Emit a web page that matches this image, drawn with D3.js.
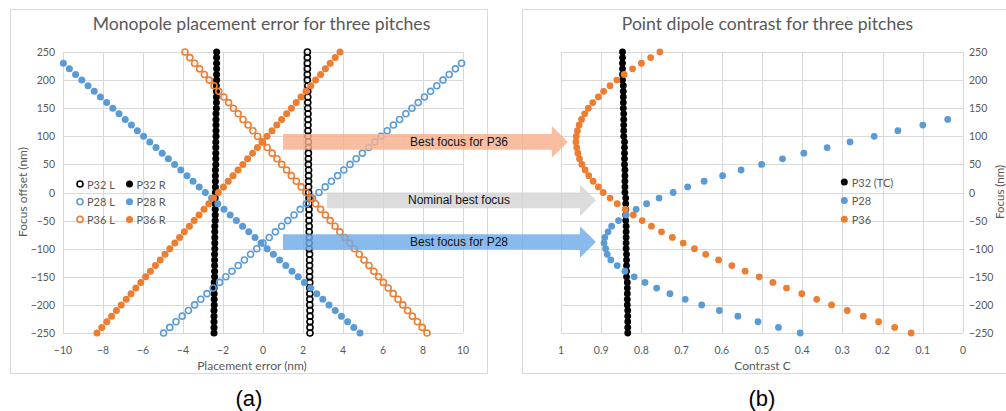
<!DOCTYPE html>
<html>
<head>
<meta charset="utf-8">
<script src="https://cdnjs.cloudflare.com/ajax/libs/d3/7.8.5/d3.min.js"></script>
<style>
  body { margin: 0; background: #fff; }
  svg { display: block; }
</style>
</head>
<body>
<script>
// focus offsets (nm), -250 .. 250 in 10 nm steps
const focus = [-250, -240, -230, -220, -210, -200, -190, -180, -170, -160, -150, -140, -130, -120, -110,
  -100, -90, -80, -70, -60, -50, -40, -30, -20, -10, 0, 10, 20, 30, 40, 50, 60, 70, 80, 90, 100,
  110, 120, 130, 140, 150, 160, 170, 180, 190, 200, 210, 220, 230, 240, 250];

// (a) placement error (nm) per focus value
const p32L = [2.35, 2.35, 2.35, 2.35, 2.35, 2.34, 2.34, 2.34, 2.34, 2.34, 2.33, 2.33, 2.33, 2.33, 2.33,
  2.31, 2.31, 2.31, 2.31, 2.31, 2.30, 2.30, 2.30, 2.30, 2.30, 2.28, 2.28, 2.28, 2.28, 2.28,
  2.27, 2.27, 2.27, 2.27, 2.27, 2.25, 2.25, 2.25, 2.25, 2.25, 2.24, 2.24, 2.24, 2.24, 2.24,
  2.22, 2.22, 2.22, 2.22, 2.22, 2.22];
const p32R = [-2.45, -2.45, -2.45, -2.45, -2.45, -2.44, -2.44, -2.44, -2.44, -2.44, -2.42, -2.42, -2.42, -2.42, -2.42,
  -2.41, -2.41, -2.41, -2.41, -2.41, -2.39, -2.39, -2.39, -2.39, -2.39, -2.38, -2.38, -2.38, -2.38, -2.38,
  -2.36, -2.36, -2.36, -2.36, -2.36, -2.35, -2.35, -2.35, -2.35, -2.35, -2.33, -2.33, -2.33, -2.33, -2.33,
  -2.32, -2.32, -2.32, -2.32, -2.32, -2.32];
// P28 runs from -250 up to 230 only
const p28L = [-4.97, -4.66, -4.35, -4.04, -3.73, -3.42, -3.11, -2.80, -2.49, -2.17, -1.86, -1.55, -1.24, -0.93, -0.62,
  -0.31, 0.00, 0.31, 0.62, 0.93, 1.24, 1.55, 1.86, 2.17, 2.48, 2.80, 3.11, 3.42, 3.73, 4.04,
  4.35, 4.66, 4.97, 5.28, 5.59, 5.90, 6.21, 6.52, 6.83, 7.14, 7.45, 7.76, 8.07, 8.38, 8.69,
  9.00, 9.31, 9.62, 9.93];
const p28R = [4.85, 4.54, 4.23, 3.92, 3.61, 3.30, 2.99, 2.69, 2.38, 2.07, 1.76, 1.45, 1.14, 0.83, 0.52,
  0.21, -0.10, -0.40, -0.71, -1.02, -1.33, -1.64, -1.95, -2.26, -2.57, -2.88, -3.19, -3.50, -3.80, -4.11,
  -4.42, -4.73, -5.04, -5.35, -5.66, -5.97, -6.28, -6.58, -6.89, -7.20, -7.51, -7.82, -8.13, -8.44, -8.75,
  -9.06, -9.37, -9.68, -9.98];
const p36L = [8.20, 7.96, 7.72, 7.47, 7.23, 6.99, 6.75, 6.51, 6.26, 6.02, 5.78, 5.54, 5.30, 5.05, 4.81,
  4.57, 4.33, 4.09, 3.84, 3.60, 3.36, 3.12, 2.88, 2.63, 2.39, 2.15, 1.91, 1.67, 1.42, 1.18,
  0.94, 0.70, 0.46, 0.21, -0.03, -0.27, -0.51, -0.75, -1.00, -1.24, -1.48, -1.72, -1.96, -2.21, -2.45,
  -2.69, -2.93, -3.17, -3.42, -3.66, -3.90];
const p36R = [-8.30, -8.06, -7.81, -7.57, -7.33, -7.09, -6.84, -6.60, -6.36, -6.11, -5.87, -5.63, -5.38, -5.14, -4.90,
  -4.66, -4.41, -4.17, -3.93, -3.68, -3.44, -3.20, -2.95, -2.71, -2.47, -2.23, -1.98, -1.74, -1.50, -1.25,
  -1.01, -0.77, -0.52, -0.28, -0.04, 0.20, 0.45, 0.69, 0.93, 1.18, 1.42, 1.66, 1.90, 2.15, 2.39,
  2.63, 2.88, 3.12, 3.36, 3.61, 3.85];

// (b) contrast C per focus value
const cP32 = [0.834, 0.834, 0.834, 0.834, 0.834, 0.835, 0.835, 0.835, 0.835, 0.835, 0.837, 0.837, 0.837, 0.837, 0.837,
  0.838, 0.838, 0.838, 0.838, 0.838, 0.839, 0.839, 0.839, 0.839, 0.839, 0.841, 0.841, 0.841, 0.841, 0.841,
  0.842, 0.842, 0.842, 0.842, 0.842, 0.844, 0.844, 0.844, 0.844, 0.844, 0.845, 0.845, 0.845, 0.845, 0.845,
  0.847, 0.847, 0.847, 0.847, 0.847, 0.847];
// P28 runs from -250 up to 130 only
const cP28 = [0.405, 0.459, 0.510, 0.560, 0.606, 0.650, 0.691, 0.729, 0.762, 0.791, 0.818, 0.841, 0.860, 0.876, 0.885,
  0.889, 0.893, 0.891, 0.883, 0.874, 0.857, 0.838, 0.813, 0.787, 0.756, 0.721, 0.685, 0.644, 0.598, 0.552,
  0.501, 0.449, 0.396, 0.338, 0.281, 0.221, 0.162, 0.100, 0.038];
const cP36 = [0.129, 0.170, 0.210, 0.248, 0.288, 0.327, 0.364, 0.401, 0.439, 0.473, 0.507, 0.542, 0.575, 0.608, 0.640,
  0.668, 0.696, 0.723, 0.750, 0.775, 0.798, 0.820, 0.840, 0.860, 0.878, 0.895, 0.907, 0.920, 0.931, 0.940,
  0.948, 0.954, 0.958, 0.961, 0.963, 0.962, 0.959, 0.955, 0.949, 0.941, 0.932, 0.921, 0.907, 0.894, 0.878,
  0.861, 0.843, 0.822, 0.800, 0.777, 0.754];

const xTicksA = [-10, -8, -6, -4, -2, 0, 2, 4, 6, 8, 10];
const xTicksB = [1, 0.9, 0.8, 0.7, 0.6, 0.5, 0.4, 0.3, 0.2, 0.1, 0];
const yTicks = [250, 200, 150, 100, 50, 0, -50, -100, -150, -200, -250];

// arrows: from a placement error on (a) to a contrast on (b), at a focus level
const arrowLabels = ["Best focus for P36", "Nominal best focus", "Best focus for P28"];
const arrowFocus = [90, -14, -88];
const arrowFrom = [1.0, 3.2, 1.0];
const arrowTo = [0.983, 0.913, 0.913];

const ORANGE = "#ed7d31", BLUE = "#5b9bd5", GRID = "#d9d9d9", TXT = "#595959";
const UI = "Lato, 'Open Sans', sans-serif";

const width = 1006, height = 411;
const svg = d3.select("body").append("svg")
  .attr("width", width)
  .attr("height", height);

const y = d3.scaleLinear().domain([-250, 250]).range([333, 52]);
const xA = d3.scaleLinear().domain([-10, 10]).range([63, 463]);
const xB = d3.scaleLinear().domain([1, 0]).range([561, 963]);

const minus = v => String(v).replace("-", "\u2212");

// panel frames
svg.append("rect").attr("x", 10.5).attr("y", 9.5).attr("width", 477).attr("height", 364)
  .attr("fill", "none").attr("stroke", GRID);
svg.append("rect").attr("x", 522.5).attr("y", 9.5).attr("width", 520).attr("height", 364)
  .attr("fill", "none").attr("stroke", GRID);

function grid(g, x, xt) {
  g.selectAll("line.v").data(xt).enter().append("line")
    .attr("x1", d => Math.round(x(d)) + 0.5).attr("x2", d => Math.round(x(d)) + 0.5)
    .attr("y1", y(250)).attr("y2", y(-250))
    .attr("stroke", GRID);
  g.selectAll("line.h").data(yTicks).enter().append("line")
    .attr("y1", d => Math.round(y(d)) + 0.5).attr("y2", d => Math.round(y(d)) + 0.5)
    .attr("x1", x.range()[0]).attr("x2", x.range()[1])
    .attr("stroke", GRID);
}

const gA = svg.append("g");
const gB = svg.append("g");
grid(gA, xA, xTicksA);
grid(gB, xB, xTicksB);

// titles
svg.append("text").attr("x", 261.5).attr("y", 30).attr("text-anchor", "middle")
  .attr("font-family", UI).attr("font-size", 17.6).attr("fill", TXT)
  .text("Monopole placement error for three pitches");
svg.append("text").attr("x", 767.5).attr("y", 30).attr("text-anchor", "middle")
  .attr("font-family", UI).attr("font-size", 17.6).attr("fill", TXT)
  .text("Point dipole contrast for three pitches");

// tick labels
const tick = (g) => g.attr("font-family", UI).attr("font-size", 10.5).attr("fill", TXT)
  .attr("dominant-baseline", "central");
tick(gA.append("g")).selectAll("text").data(yTicks).enter().append("text")
  .attr("x", 55).attr("y", d => y(d)).attr("text-anchor", "end").text(minus);
tick(gA.append("g")).selectAll("text").data(xTicksA).enter().append("text")
  .attr("x", d => xA(d)).attr("y", 350).attr("text-anchor", "middle").text(minus);
tick(gB.append("g")).selectAll("text").data(yTicks).enter().append("text")
  .attr("x", 969).attr("y", d => y(d)).attr("text-anchor", "start").text(minus);
tick(gB.append("g")).selectAll("text").data(xTicksB).enter().append("text")
  .attr("x", d => xB(d)).attr("y", 350).attr("text-anchor", "middle").text(d => String(d));

// axis titles
const axTitle = (x, yy, t, rot, fs) => svg.append("text")
  .attr("transform", "translate(" + x + "," + yy + ")" + (rot ? " rotate(-90)" : ""))
  .attr("text-anchor", "middle").attr("dominant-baseline", "central")
  .attr("font-family", UI).attr("font-size", fs || 12).attr("fill", TXT).text(t);
axTitle(252, 365, "Placement error (nm)");
axTitle(22, 192, "Focus offset (nm)", true);
axTitle(762.5, 365, "Contrast C");
// secondary axis title, squeezed against the right edge
axTitle(999.5, 192, "Focus (nm)", true, 11.5);

// markers
function dots(g, x, xs, open, color, r) {
  g.append("g").selectAll("circle").data(xs).enter().append("circle")
    .attr("cx", d => x(d))
    .attr("cy", (d, i) => y(focus[i]))
    .attr("r", r)
    .attr("fill", open ? "none" : color)
    .attr("stroke", open ? color : "none")
    .attr("stroke-width", open ? 1.6 : 0);
}

dots(gA, xA, p32L, true, "#000", 3);
dots(gA, xA, p32R, false, "#000", 3.5);
dots(gA, xA, p28L, true, BLUE, 3);
dots(gA, xA, p28R, false, BLUE, 3.5);
dots(gA, xA, p36L, true, ORANGE, 3);
dots(gA, xA, p36R, false, ORANGE, 3.5);

dots(gB, xB, cP32, false, "#000", 3.4);
dots(gB, xB, cP28, false, BLUE, 3.4);
dots(gB, xB, cP36, false, ORANGE, 3.4);

// legends
const legA = [
  { name: "P32 L", c: "#000", open: true, col: 0, row: 0 },
  { name: "P32 R", c: "#000", open: false, col: 1, row: 0 },
  { name: "P28 L", c: BLUE, open: true, col: 0, row: 1 },
  { name: "P28 R", c: BLUE, open: false, col: 1, row: 1 },
  { name: "P36 L", c: ORANGE, open: true, col: 0, row: 2 },
  { name: "P36 R", c: ORANGE, open: false, col: 1, row: 2 }
];
const la = gA.append("g").selectAll("g").data(legA).enter().append("g")
  .attr("transform", d => "translate(" + (80 + d.col * 49.5) + "," + (184 + d.row * 17.7) + ")");
la.append("circle").attr("r", d => d.open ? 3 : 3.5)
  .attr("fill", d => d.open ? "none" : d.c)
  .attr("stroke", d => d.open ? d.c : "none").attr("stroke-width", 1.6);
la.append("text").attr("x", 7).attr("dominant-baseline", "central")
  .attr("font-family", UI).attr("font-size", 11).attr("fill", TXT).text(d => d.name);

const legB = [["P32 (TC)", "#000"], ["P28", BLUE], ["P36", ORANGE]];
const lb = gB.append("g").selectAll("g").data(legB).enter().append("g")
  .attr("transform", (d, i) => "translate(844.3," + (182 + i * 18.6) + ")");
lb.append("circle").attr("r", 3.5).attr("fill", d => d[1]);
lb.append("text").attr("x", 7.4).attr("dominant-baseline", "central")
  .attr("font-family", UI).attr("font-size", 11).attr("fill", TXT).text(d => d[0]);

// arrows across both panels
const arrowFill = ["#f8b08e", "#d4d4d4", "#6fabe8"];
const arrows = svg.append("g").selectAll("g").data(arrowLabels).enter().append("g");
arrows.append("path")
  .attr("d", (d, i) => {
    const x0 = xA(arrowFrom[i]), x1 = xB(arrowTo[i]), c = y(arrowFocus[i]);
    const hb = 7.8, hh = 15.8, hl = 16;
    return "M" + x0 + "," + (c - hb) + "H" + (x1 - hl) + "V" + (c - hh) + "L" + x1 + "," + c +
      "L" + (x1 - hl) + "," + (c + hh) + "V" + (c + hb) + "H" + x0 + "Z";
  })
  .attr("fill", (d, i) => arrowFill[i])
  .attr("opacity", 0.82);
arrows.append("text")
  .attr("x", 459)
  .attr("y", (d, i) => y(arrowFocus[i]))
  .attr("text-anchor", "middle").attr("dominant-baseline", "central")
  .attr("font-family", "'Liberation Sans', Arial, sans-serif").attr("font-size", 12)
  .attr("fill", "#111").text(d => d);

// panel letters
svg.append("text").attr("x", 249).attr("y", 398).attr("text-anchor", "middle")
  .attr("dominant-baseline", "central").attr("font-family", "'Liberation Sans', Arial, sans-serif")
  .attr("font-size", 22).attr("fill", "#000").text("(a)");
svg.append("text").attr("x", 762).attr("y", 398).attr("text-anchor", "middle")
  .attr("dominant-baseline", "central").attr("font-family", "'Liberation Sans', Arial, sans-serif")
  .attr("font-size", 22).attr("fill", "#000").text("(b)");
</script>
</body>
</html>
